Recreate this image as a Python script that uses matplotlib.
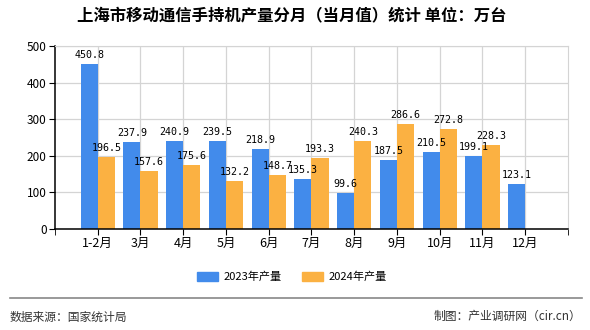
import matplotlib.pyplot as plt
import numpy as np

plt.rcParams['font.family'] = ['Noto Sans CJK SC', 'DejaVu Sans']

months = ['1-2月', '3月', '4月', '5月', '6月', '7月', '8月', '9月', '10月', '11月', '12月']
output_2023 = [450.8, 237.9, 240.9, 239.5, 218.9, 135.3, 99.6, 187.5, 210.5, 199.1, 123.1]
output_2024 = [196.5, 157.6, 175.6, 132.2, 148.7, 193.3, 240.3, 286.6, 272.8, 228.3, None]
yticks = [0, 100, 200, 300, 400, 500]

blue = '#428BEB'
orange = '#FBB142'

fig = plt.figure(figsize=(5.9, 3.3), dpi=100)
ax = fig.add_axes([0.0932, 0.306, 0.8695, 0.555])

x = np.arange(len(months))
w = 0.4
for i, v in enumerate(output_2023):
    ax.bar(x[i] - w / 2, v, w, color=blue, zorder=2)
    ax.text(x[i] - w / 2, v + 11, f'{v}', ha='center', va='bottom',
            fontsize=7.2, family='DejaVu Sans Mono', zorder=3)
for i, v in enumerate(output_2024):
    if v is None:
        continue
    ax.bar(x[i] + w / 2, v, w, color=orange, zorder=2)
    ax.text(x[i] + w / 2, v + 11, f'{v}', ha='center', va='bottom',
            fontsize=7.2, family='DejaVu Sans Mono', zorder=3)

ax.set_xlim(-1, 11)
ax.set_ylim(0, 500)
ax.set_xticks(x)
ax.set_xticklabels(months, fontsize=9)
ax.set_xticks([-1, 11], minor=True)
ax.set_yticks(yticks)
ax.set_yticklabels([str(t) for t in yticks], fontsize=8.5)
ax.tick_params(axis='both', which='both', direction='out', length=4, color='black', pad=2)
ax.grid(True, color='#d4d4d4', linewidth=0.9, zorder=0)
ax.set_axisbelow(True)
for s in ['top', 'right']:
    ax.spines[s].set_color('#d4d4d4')
for s in ['left', 'bottom']:
    ax.spines[s].set_color('black')
    ax.spines[s].set_linewidth(1.1)

fig.text(0.494, 0.952, '上海市移动通信手持机产量分月（当月值）统计 单位：万台',
         ha='center', va='center', fontsize=11.8, fontweight='bold')

fig.patches.append(plt.Rectangle((0.334, 0.149), 0.036, 0.027, color=blue, transform=fig.transFigure))
fig.text(0.379, 0.162, '2023年产量', ha='left', va='center', fontsize=8)
fig.patches.append(plt.Rectangle((0.512, 0.149), 0.036, 0.027, color=orange, transform=fig.transFigure))
fig.text(0.557, 0.162, '2024年产量', ha='left', va='center', fontsize=8)

fig.add_artist(plt.Line2D([0.017, 0.986], [0.097, 0.097], color='#888888', linewidth=1.2,
                          transform=fig.transFigure))
fig.text(0.017, 0.04, '数据来源：国家统计局', ha='left', va='center', fontsize=8.5, color='#333333')
fig.text(0.986, 0.04, '制图：产业调研网（cir.cn）', ha='right', va='center', fontsize=8.5, color='#333333')

fig.savefig('out.png', dpi=100)
